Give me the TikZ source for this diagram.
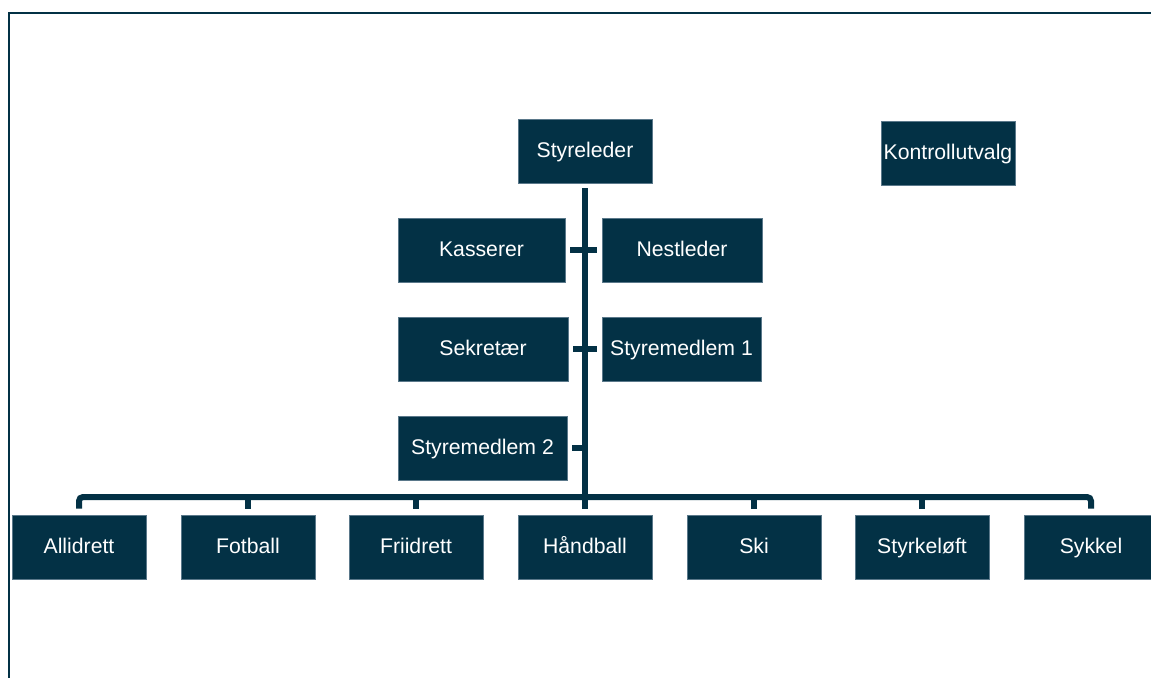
\documentclass[tikz,border=0pt]{standalone}
\usepackage{fontspec}
\setmainfont{Liberation Sans}
\definecolor{navy}{RGB}{3,49,69}
\definecolor{edge}{RGB}{90,120,138}
\begin{document}
\begin{tikzpicture}[x=1bp,y=-1bp,
  box/.style={rectangle, fill=navy, draw=edge, line width=0.6bp, text=white,
    minimum height=64bp, inner sep=0pt, text height=17bp, text depth=4.3bp,
    font=\fontsize{21.3}{26}\selectfont},
  conn/.style={draw=navy, line width=6bp},
  frame/.style={draw=navy, line width=2.5bp}]
\useasboundingbox (0,0) rectangle (1151,678);
\fill[white] (0,0) rectangle (1151,678);
\draw[frame] (9,680) -- (9,13) -- (1153,13);

\node[box, minimum width=134bp] (sty) at (585,151) {Styreleder};
\node[box, minimum width=134bp] (kon) at (948,153) {Kontrollutvalg};
\node[box, minimum width=167bp] (kas) at (481.5,250) {Kasserer};
\node[box, minimum width=160bp] (nes) at (682,250) {Nestleder};
\node[box, minimum width=170bp] (sek) at (483,349) {Sekretær};
\node[box, minimum width=159bp] (sm1) at (681.5,349) {Styremedlem 1};
\node[box, minimum width=169bp] (sm2) at (482.5,448) {Styremedlem 2};

\node[box, minimum width=134bp] (b1) at (79,547) {Allidrett};
\node[box, minimum width=134bp] (b2) at (248,547) {Fotball};
\node[box, minimum width=134bp] (b3) at (416,547) {Friidrett};
\node[box, minimum width=134bp] (b4) at (585,547) {Håndball};
\node[box, minimum width=134bp] (b5) at (754,547) {Ski};
\node[box, minimum width=134bp] (b6) at (922,547) {Styrkeløft};
\node[box, minimum width=134bp] (b7) at (1091,547) {Sykkel};

\coordinate (bus) at (585,497);

\draw[conn] ([yshift=-5bp]sty.south) -- (bus);
\draw[conn] ([xshift=5bp]kas.east) -- ([xshift=-5bp]nes.west);
\draw[conn] ([xshift=5bp]sek.east) -- ([xshift=-5bp]sm1.west);
\draw[conn] ([xshift=5bp]sm2.east) -- (sm2.east -| bus);

\draw[conn, rounded corners=4bp] ([yshift=6bp]b1.north) |- (bus) -| ([yshift=6bp]b7.north);
\foreach \b in {b2,b3,b4,b5,b6}
  \draw[conn] ([yshift=6bp]\b.north) -- (\b.north |- bus);
\end{tikzpicture}
\end{document}
